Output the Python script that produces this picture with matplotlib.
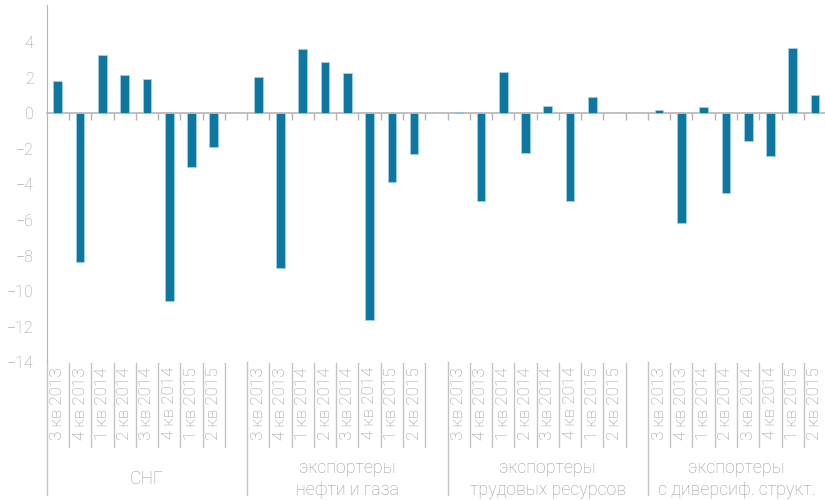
import numpy as np
import matplotlib
matplotlib.use('Agg')
import matplotlib.pyplot as plt

plt.rcParams['font.family'] = ['Roboto', 'DejaVu Sans']
plt.rcParams['font.weight'] = 'light'

# quarters and groups
quarters = ['3 кв 2013', '4 кв 2013', '1 кв 2014', '2 кв 2014',
            '3 кв 2014', '4 кв 2014', '1 кв 2015', '2 кв 2015']
groups = ['СНГ', 'экспортеры\nнефти и газа', 'экспортеры\nтрудовых ресурсов',
          'экспортеры\nс диверсиф. структ.']

# values
cis = [1.83, -8.38, 3.30, 2.13, 1.92, -10.58, -3.03, -1.92]
oil_gas = [2.03, -8.68, 3.63, 2.88, 2.28, -11.6, -3.84, -2.28]
labour = [0.08, -4.92, 2.34, -2.24, 0.41, -4.92, 0.89, 0.0]
diversified = [0.17, -6.16, 0.34, -4.46, -1.54, -2.39, 3.69, 1.04]
series = [cis, oil_gas, labour, diversified]

bar_color = '#0c77a0'
text_color = '#999999'
line_color = '#b5b5b5'

n = len(quarters)
step = n + 1  # one empty slot between groups
xmax = 34.45

fig = plt.figure(figsize=(8.25, 5), dpi=100)
ax = fig.add_axes([46.7 / 825, 1 - 362.2 / 500, 1 - 46.7 / 825, 357.2 / 500])

for g, vals in enumerate(series):
    x = g * step + np.arange(n)
    ax.bar(x, vals, width=0.39, color=bar_color, edgecolor='#a9d3e6', linewidth=0.5, zorder=3)

ax.set_xlim(-0.5, xmax)
ax.set_ylim(-14, 6.09)

for s in ['top', 'right']:
    ax.spines[s].set_visible(False)
ax.spines['left'].set_color(line_color)
ax.spines['bottom'].set_position(('data', 0))
ax.spines['bottom'].set_color(line_color)
ax.spines['bottom'].set_linewidth(1.2)

bounds = np.arange(0.5, 34, 1.0)
ax.set_xticks(bounds)
ax.set_xticklabels([])
ax.tick_params(axis='x', length=5, width=1, color=line_color, direction='out')

ax.set_yticks(np.arange(-14, 5, 2))
ax.tick_params(axis='y', length=0, pad=9.5, labelsize=11.5, labelcolor=text_color)

tr = ax.get_xaxis_transform()
for g in range(len(groups)):
    start = g * step
    # long group separator
    ax.plot([start - 0.5, start - 0.5], [0, -0.372], transform=tr, color='#c4c4c4',
            lw=1, clip_on=False)
    for k in range(n):
        xk = start + k
        if xk + 0.5 < xmax:
            ax.plot([xk + 0.5, xk + 0.5], [-0.002, -0.237], transform=tr, color='#c4c4c4',
                    lw=1, clip_on=False)
        ax.text(xk, -0.0134, quarters[k], rotation=90, ha='center', va='top',
                transform=tr, fontsize=12.3, color=text_color, clip_on=False)
    right = start + n + 0.5 if g < len(groups) - 1 else xmax
    ax.text((start - 0.5 + right) / 2, -0.327, groups[g], ha='center', va='center',
            transform=tr, fontsize=12.8, color=text_color, linespacing=1.25,
            clip_on=False)

fig.savefig('out.png', dpi=100)
